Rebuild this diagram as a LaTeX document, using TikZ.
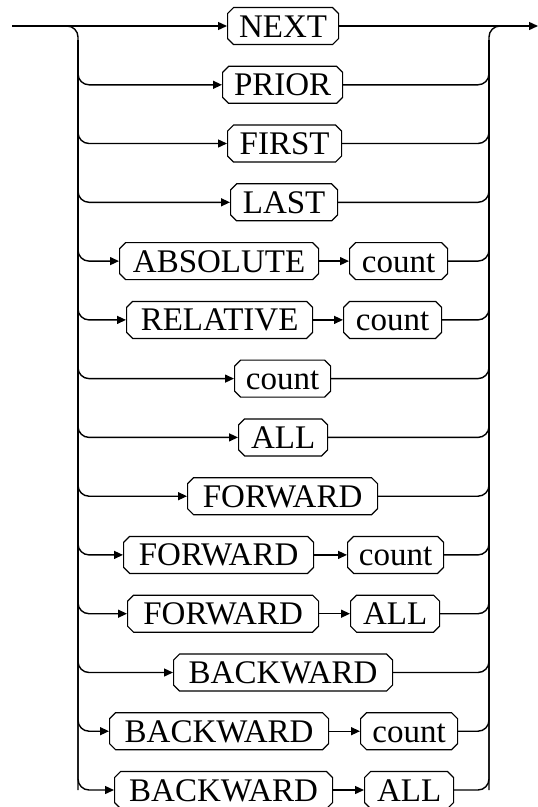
\documentclass[tikz,border=0pt]{standalone}
\usepackage{fontspec}
\setmainfont{Liberation Serif}
\usetikzlibrary{shapes.misc,arrows.meta}
\begin{document}
\begin{tikzpicture}[x=1pt,y=-1pt,line width=1.4pt,
  kw/.style={draw,chamfered rectangle,chamfered rectangle xsep=3pt,chamfered rectangle ysep=3pt,
    minimum height=37pt,inner sep=0pt,anchor=west,line width=1.2pt,
    text height=22pt,text depth=0pt,font=\fontsize{33}{33}\selectfont},
  arr/.style={-{Triangle[length=9pt,width=8pt]}},
  rc/.style={rounded corners=11pt}]
\useasboundingbox (0,0) rectangle (538,807);
% rails
\coordinate (S) at (12,26);
\coordinate (E) at (538,26);
\coordinate (Lj) at (67,26);
\coordinate (Lt) at (78,40);
\coordinate (Lb) at (78,790);
\coordinate (Rj) at (500,26);
\coordinate (Rt) at (489,40);
\coordinate (Rb) at (489,790);
% nodes
\node[kw,minimum width=111pt] (n0) at (227,26) {NEXT};
\node[kw,minimum width=120pt] (n1) at (222,84.8) {PRIOR};
\node[kw,minimum width=114pt] (n2) at (227,143.5) {FIRST};
\node[kw,minimum width=107pt] (n3) at (230,202.3) {LAST};
\node[kw,minimum width=199pt] (n4) at (119,261.1) {ABSOLUTE};
\node[kw,minimum width=98pt] (c4) at (349,261.1) {count};
\node[kw,minimum width=186pt] (n5) at (126,319.9) {RELATIVE};
\node[kw,minimum width=98pt] (c5) at (343,319.9) {count};
\node[kw,minimum width=96pt] (n6) at (234,378.6) {count};
\node[kw,minimum width=89pt] (n7) at (238,437.4) {ALL};
\node[kw,minimum width=190pt] (n8) at (187,496.2) {FORWARD};
\node[kw,minimum width=190pt] (n9) at (123,554.9) {FORWARD};
\node[kw,minimum width=96pt] (c9) at (347,554.9) {count};
\node[kw,minimum width=191pt] (n10) at (127,613.7) {FORWARD};
\node[kw,minimum width=89pt] (c10) at (350,613.7) {ALL};
\node[kw,minimum width=219pt] (n11) at (173,672.5) {BACKWARD};
\node[kw,minimum width=219pt] (n12) at (109,731.2) {BACKWARD};
\node[kw,minimum width=97pt] (c12) at (360,731.2) {count};
\node[kw,minimum width=218pt] (n13) at (114,790) {BACKWARD};
\node[kw,minimum width=89pt] (c13) at (364,790) {ALL};
% main line
\draw[arr] (S) -- (n0.west);
\draw[arr] (n0.east) -- (E);
\draw[rc] (Lj) -| (Lb);
\draw[rc] (Rb) |- (Rj);
% left branches
\foreach \b in {n1,n2,n3,n4,n5,n6,n7,n8,n9,n10,n11,n12,n13}
  \draw[arr,rc] (Lt) |- (\b.west);
% inner arrows
\draw[arr] (n4.east) -- (c4.west);
\draw[arr] (n5.east) -- (c5.west);
\draw[arr] (n9.east) -- (c9.west);
\draw[arr] (n10.east) -- (c10.west);
\draw[arr] (n12.east) -- (c12.west);
\draw[arr] (n13.east) -- (c13.west);
% right branches
\foreach \b in {n1,n2,n3,c4,c5,n6,n7,n8,c9,c10,n11,c12,c13}
  \draw[rc] (\b.east) -| (Rt);
\end{tikzpicture}
\end{document}
